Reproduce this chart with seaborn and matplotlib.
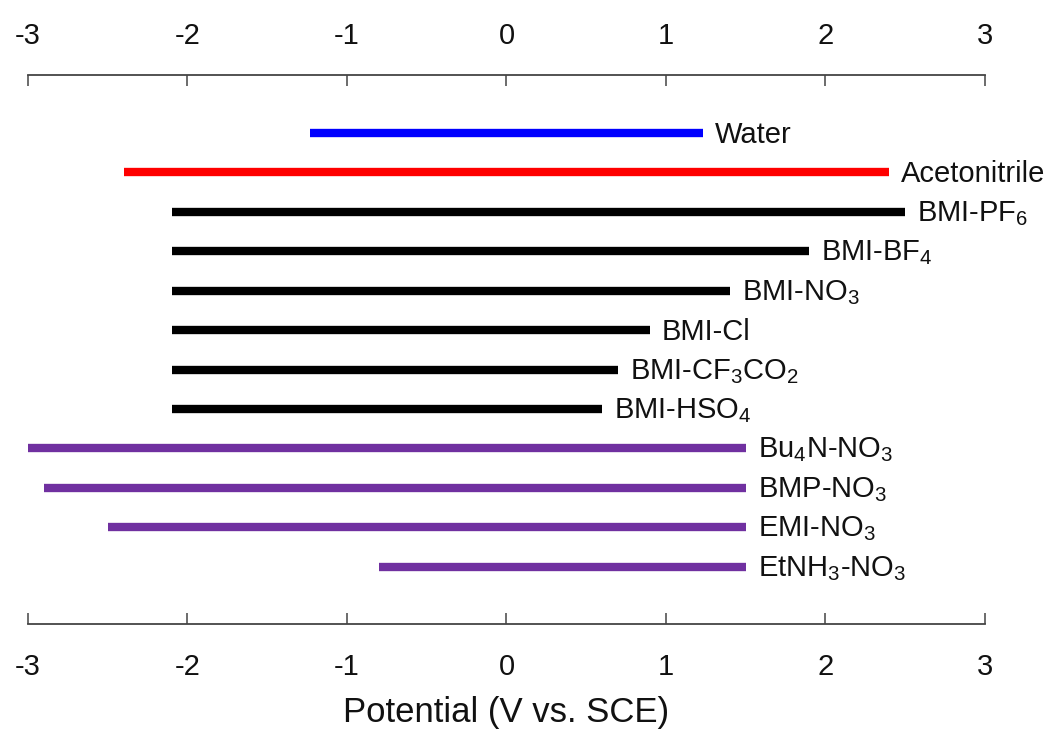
import matplotlib
matplotlib.use("Agg")
import matplotlib.pyplot as plt
import seaborn as sns
import pandas as pd

# Electrochemical windows (V vs. SCE): cathodic and anodic limits
names = ["Water", "Acetonitrile", "BMI-PF$_6$", "BMI-BF$_4$", "BMI-NO$_3$",
         "BMI-Cl", "BMI-CF$_3$CO$_2$", "BMI-HSO$_4$", "Bu$_4$N-NO$_3$",
         "BMP-NO$_3$", "EMI-NO$_3$", "EtNH$_3$-NO$_3$"]
groups = ["water", "acetonitrile"] + ["bmi"] * 6 + ["nitrate"] * 4
cathodic = [-1.23, -2.4, -2.1, -2.1, -2.1, -2.1, -2.1, -2.1, -3.0, -2.9, -2.5, -0.8]
anodic = [1.23, 2.4, 2.5, 1.9, 1.4, 0.9, 0.7, 0.6, 1.5, 1.5, 1.5, 1.5]
tick_values = [-3, -2, -1, 0, 1, 2, 3]

palette = {"water": "#0000FF", "acetonitrile": "#FF0000",
           "bmi": "#000000", "nitrate": "#7030A0"}

rows = []
for i, (n, g, lo, hi) in enumerate(zip(names, groups, cathodic, anodic)):
    rows.append({"name": n, "group": g, "row": i, "potential": lo})
    rows.append({"name": n, "group": g, "row": i, "potential": hi})
df = pd.DataFrame(rows)

sns.set_style("white")
plt.rcParams["font.family"] = ["Liberation Sans", "DejaVu Sans"]
plt.rcParams["mathtext.fontset"] = "custom"
plt.rcParams["mathtext.rm"] = "Liberation Sans"
plt.rcParams["mathtext.default"] = "rm"
plt.rcParams["text.color"] = "#111111"
plt.rcParams["axes.labelcolor"] = "#111111"

fig = plt.figure(figsize=(10.55, 7.33), dpi=100)
ax = fig.add_axes([0.0265, 0.1487, 0.9071, 0.749])

sns.lineplot(data=df, x="potential", y="row", units="name", estimator=None,
             hue="group", palette=palette, sort=False, legend=False,
             linewidth=6.0, solid_capstyle="butt", ax=ax)

for i, (n, hi) in enumerate(zip(names, anodic)):
    ax.text(hi + 0.075, i + 0.04, n, fontsize=21, va="center", ha="left",
            color="#111111")

ax.set_xlim(-3, 3)
ax.set_ylim(12.45, -1.47)
ax.set_yticks([])
ax.set_ylabel("")
ax.set_xticks(tick_values)
ax.set_xticklabels([str(v) for v in tick_values])
ax.set_xlabel("Potential (V vs. SCE)", fontsize=25, labelpad=11)

for side in ("left", "right"):
    ax.spines[side].set_visible(False)
for side in ("top", "bottom"):
    ax.spines[side].set_color("#444444")
    ax.spines[side].set_linewidth(1.3)

ax.tick_params(axis="x", which="both", direction="in", length=8, width=1.1,
               color="#444444", top=False, bottom=True, labeltop=False,
               labelbottom=True, labelsize=21, pad=21, labelcolor="#111111")

# Top scale mirrors the bottom one
top = ax.secondary_xaxis("top")
top.set_xticks(tick_values)
top.set_xticklabels([str(v) for v in tick_values])
top.spines["top"].set_visible(False)
top.tick_params(axis="x", direction="in", length=8, width=1.1,
                color="#444444", labelsize=21, pad=18, labelcolor="#111111")

fig.savefig("out.png", dpi=100)
